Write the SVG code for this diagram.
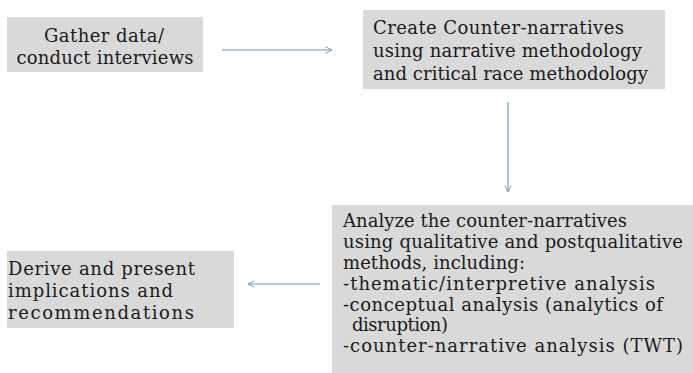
<svg xmlns="http://www.w3.org/2000/svg" width="693" height="373" viewBox="0 0 693 373">
<style>
.box{fill:#d9d9d9;}
.t{font-family:"DejaVu Serif","Liberation Serif",serif;font-size:18px;fill:#1a1a1a;}
.c{stroke:#6a9cbd;stroke-width:1.2;fill:none;}
</style>
<defs>
<marker id="ah" viewBox="0 0 10 10" refX="9" refY="5" markerWidth="8" markerHeight="8" orient="auto" markerUnits="userSpaceOnUse">
<path d="M1,1 L9,5 L1,9" fill="none" stroke="#6a9cbd" stroke-width="1.2"/>
</marker>
</defs>
<rect width="693" height="373" fill="#ffffff"/>
<g id="node-gather">
<rect class="box" x="7" y="17" width="196" height="55"/>
<text class="t" x="104" y="42" text-anchor="middle" textLength="120" lengthAdjust="spacing">Gather data/</text>
<text class="t" x="105" y="64" text-anchor="middle" textLength="177" lengthAdjust="spacing">conduct interviews</text>
</g>
<g id="node-create">
<rect class="box" x="363" y="10" width="302" height="79"/>
<text class="t" x="373" y="34" textLength="251" lengthAdjust="spacing">Create Counter-narratives</text>
<text class="t" x="373" y="57" textLength="269" lengthAdjust="spacing">using narrative methodology</text>
<text class="t" x="373" y="80" textLength="275" lengthAdjust="spacing">and critical race methodology</text>
</g>
<g id="node-analyze">
<rect class="box" x="332" y="205" width="361" height="168"/>
<text class="t" x="343" y="227" textLength="284" lengthAdjust="spacing">Analyze the counter-narratives</text>
<text class="t" x="343" y="248" textLength="340" lengthAdjust="spacing">using qualitative and postqualitative</text>
<text class="t" x="343" y="269" textLength="182" lengthAdjust="spacing">methods, including:</text>
<text class="t" x="343" y="290" textLength="312" lengthAdjust="spacing">-thematic/interpretive analysis</text>
<text class="t" x="343" y="311" textLength="320" lengthAdjust="spacing">-conceptual analysis (analytics of</text>
<text class="t" x="352" y="331" textLength="96" lengthAdjust="spacing">disruption)</text>
<text class="t" x="343" y="352" textLength="340" lengthAdjust="spacing">-counter-narrative analysis (TWT)</text>
</g>
<g id="node-derive">
<rect class="box" x="7" y="251" width="227" height="77"/>
<text class="t" x="8" y="275" textLength="187" lengthAdjust="spacing">Derive and present</text>
<text class="t" x="8" y="297" textLength="165" lengthAdjust="spacing">implications and</text>
<text class="t" x="8" y="319" textLength="186" lengthAdjust="spacing">recommendations</text>
</g>
<g id="connectors">
<line class="c" x1="222" y1="50" x2="332" y2="50" marker-end="url(#ah)"/>
<line class="c" x1="508" y1="102" x2="508" y2="192" marker-end="url(#ah)"/>
<line class="c" x1="320" y1="284" x2="248" y2="284" marker-end="url(#ah)"/>
</g>
</svg>
